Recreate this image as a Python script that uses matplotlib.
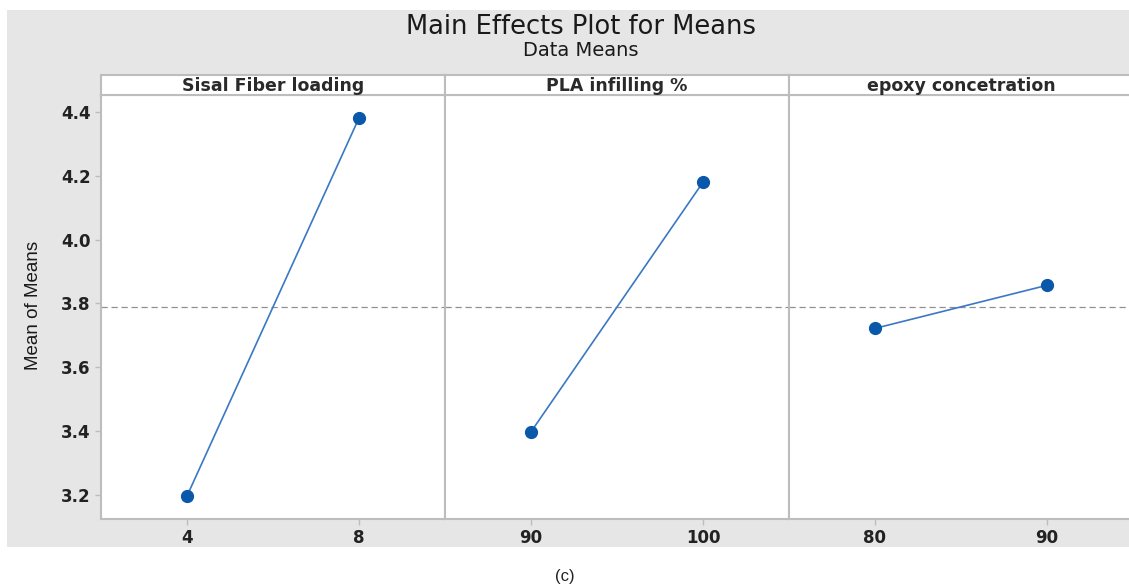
import matplotlib.pyplot as plt

# Data
factors = ['Sisal Fiber loading', 'PLA infilling %', 'epoxy concetration']
levels = [[4, 8], [90, 100], [80, 90]]
means = [[3.197, 4.381], [3.398, 4.180], [3.722, 3.857]]
grand_mean = 3.789
xlims = [(2, 10), (85, 105), (75, 95)]
yticks = [3.2, 3.4, 3.6, 3.8, 4.0, 4.2, 4.4]

W, H = 1129, 587
fig = plt.figure(figsize=(W / 100, H / 100), dpi=100)
fig.patch.set_facecolor('white')

# grey background panel, drawn as an axes so it sits below the plots
bg = fig.add_axes([7 / W, 1 - 547 / H, (W - 7) / W, (547 - 10) / H], zorder=-1)
bg.set_facecolor('#e6e6e6')
bg.set_xticks([])
bg.set_yticks([])
for s in bg.spines.values():
    s.set_visible(False)

fig.text(581 / W, 1 - 27 / H, 'Main Effects Plot for Means', ha='center', va='center',
         fontsize=18.5, family='DejaVu Sans', color='#1a1a1a')
fig.text(581 / W, 1 - 50 / H, 'Data Means', ha='center', va='center',
         fontsize=14, family='DejaVu Sans', color='#1a1a1a')
fig.text(565 / W, 1 - 576 / H, '(c)', ha='center', va='center',
         fontsize=12, family='Liberation Sans', color='#222222')

edge = '#bdbdbd'
pw = 344
for i, name in enumerate(factors):
    left = (101 + pw * i) / W
    ax = fig.add_axes([left, 1 - 519 / H, pw / W, (519 - 95) / H])
    ax.plot(levels[i], means[i], color='#3a78c4', lw=1.2, zorder=2)
    ax.plot(levels[i], means[i], 'o', color='#0a58aa', ms=8.5, zorder=3)
    ax.axhline(grand_mean, color='#909090', lw=0.9, ls=(0, (5, 3)), zorder=1)
    ax.set_xlim(xlims[i])
    ax.set_ylim(3.125, 4.453)
    ax.set_xticks(levels[i])
    ax.set_yticks(yticks)
    ax.set_yticklabels([f'{v:.1f}' for v in yticks])
    for s in ax.spines.values():
        s.set_color(edge)
        s.set_linewidth(1.5)
    ax.tick_params(axis='both', colors=edge, labelcolor='#222222', length=4,
                   width=1, labelsize=12)
    for lab in ax.get_xticklabels() + ax.get_yticklabels():
        lab.set_fontweight('bold')
    if i > 0:
        ax.tick_params(axis='y', left=False, labelleft=False)

    # strip header
    st = fig.add_axes([left, 1 - 95 / H, pw / W, 20 / H])
    st.set_xticks([])
    st.set_yticks([])
    for s in st.spines.values():
        s.set_color(edge)
        s.set_linewidth(1.5)
    st.text(0.5, 0.45, name, transform=st.transAxes, ha='center', va='center',
            fontsize=12.5, family='DejaVu Sans', fontweight='bold', color='#2a2a2a')

fig.text(33 / W, 1 - 305 / H, 'Mean of Means', rotation=90, ha='center', va='center',
         fontsize=13.5, family='Liberation Sans', color='#1a1a1a')

fig.savefig('out.png', dpi=100)
